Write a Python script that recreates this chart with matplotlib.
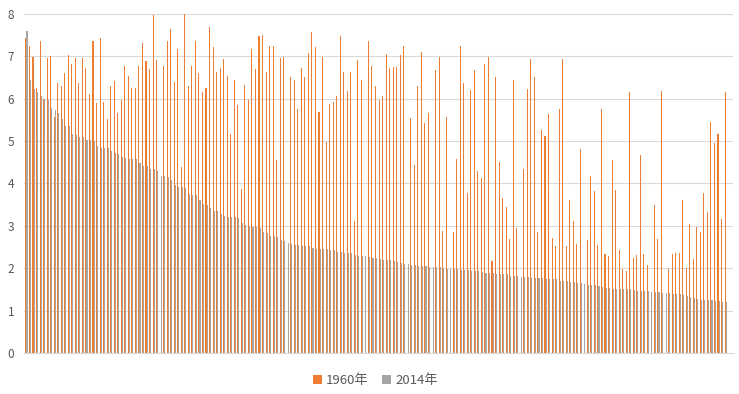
import numpy as np
import matplotlib
matplotlib.use("Agg")
import matplotlib.pyplot as plt

plt.rcParams["font.family"] = ["Noto Sans CJK SC", "DejaVu Sans"]

nan = np.nan

# 1960 fertility values (orange), in chart order (sorted by 2014 value)
fert_1960 = [
    7.42, 7.25, 6.97, 6.24, 7.37, 6.00, 6.95, 7.00, 5.56, 6.36,
    6.29, 6.60, 7.02, 6.81, 6.95, 6.36, 6.95, 6.71, 6.10, 7.35,
    5.89, 7.44, 5.91, 5.51, 6.29, 6.41, 5.65, 5.96, 6.78, 6.53,
    6.24, 6.24, 6.78, 7.30, 6.88, 6.69, 7.96, 6.90, nan, 6.76,
    7.37, 7.65, 6.38, 7.16, 4.38, 8.20, 6.29, 6.78, 7.37, 6.60,
    6.15, 6.24, 7.70, 7.21, 6.62, 6.71, 6.93, 6.53, 5.16, 6.45,
    5.84, 3.87, 6.31, 5.96, 7.16, 6.69, 7.47, 7.51, 6.62, 7.25,
    7.23, 4.55, 6.95, 6.97, nan, 6.50, 6.45, 5.75, 6.71, 6.50,
    7.07, 7.56, 7.21, 5.68, 6.97, 4.97, 5.87, 5.91, 6.05, 7.47,
    6.62, 6.17, 6.62, 3.11, 6.90, 6.43, nan, 7.35, 6.76, 6.29,
    5.96, 6.05, 7.04, 6.71, 6.74, 6.74, 7.02, 7.23, nan, 5.54,
    4.43, 6.29, 7.09, 5.42, 5.65, nan, 6.67, 6.97, 2.88, 5.56,
    nan, 2.85, 4.57, 7.23, 6.36, 3.77, 6.20, 6.67, 4.29, 4.13,
    6.81, 6.97, 2.17, 6.50, 4.50, 3.65, 3.44, 2.69, 6.45, 2.95,
    nan, 4.34, 6.22, 6.93, 6.50, 2.85, 5.25, 5.11, 5.63, 2.71,
    2.53, 5.75, 6.93, 2.53, 3.61, 3.11, 2.57, 4.81, nan, 2.67,
    4.17, 3.82, 2.55, 5.75, 2.34, 2.29, 4.55, 3.84, 2.43, 1.98,
    1.94, 6.15, 2.24, 2.31, 4.67, 2.34, 2.08, nan, 3.49, 2.69,
    6.17, nan, 1.98, 2.34, 2.36, 2.36, 3.61, 2.01, 3.04, 2.22,
    2.97, 2.85, 3.77, 3.33, 5.44, 4.95, 5.16, 3.16, 6.15,
]

# 2014 fertility values (gray), descending
fert_2014 = [
    7.60, 6.45, 6.23, 6.15, 6.07, 6.00, 5.96, 5.77, 5.73, 5.65,
    5.51, 5.35, 5.35, 5.16, 5.14, 5.09, 5.09, 5.02, 5.02, 5.00,
    4.88, 4.83, 4.83, 4.83, 4.76, 4.71, 4.69, 4.62, 4.60, 4.57,
    4.57, 4.57, 4.48, 4.41, 4.41, 4.34, 4.34, 4.29, 4.17, 4.17,
    4.15, 4.08, 3.96, 3.91, 3.91, 3.89, 3.75, 3.73, 3.73, 3.61,
    3.51, 3.49, 3.42, 3.35, 3.35, 3.28, 3.23, 3.21, 3.21, 3.21,
    3.18, 3.07, 3.02, 3.00, 2.97, 2.97, 2.95, 2.85, 2.83, 2.76,
    2.76, 2.74, 2.67, 2.64, 2.60, 2.57, 2.55, 2.55, 2.53, 2.53,
    2.53, 2.48, 2.45, 2.45, 2.45, 2.45, 2.43, 2.43, 2.38, 2.38,
    2.36, 2.36, 2.36, 2.31, 2.29, 2.29, 2.29, 2.27, 2.24, 2.24,
    2.22, 2.20, 2.20, 2.20, 2.17, 2.15, 2.13, 2.10, 2.10, 2.08,
    2.08, 2.05, 2.05, 2.05, 2.03, 2.03, 2.03, 2.03, 2.01, 1.98,
    1.98, 1.98, 1.98, 1.96, 1.96, 1.96, 1.94, 1.94, 1.94, 1.91,
    1.89, 1.89, 1.89, 1.87, 1.87, 1.87, 1.87, 1.82, 1.82, 1.82,
    1.80, 1.80, 1.80, 1.77, 1.77, 1.77, 1.77, 1.75, 1.75, 1.75,
    1.75, 1.70, 1.70, 1.70, 1.68, 1.68, 1.65, 1.65, 1.63, 1.61,
    1.61, 1.61, 1.58, 1.56, 1.54, 1.54, 1.51, 1.51, 1.51, 1.51,
    1.51, 1.51, 1.49, 1.47, 1.47, 1.47, 1.47, 1.44, 1.44, 1.44,
    1.42, 1.42, 1.42, 1.40, 1.40, 1.40, 1.37, 1.35, 1.33, 1.30,
    1.28, 1.26, 1.26, 1.26, 1.26, 1.23, 1.23, 1.21, 1.21,
]

series_names = ["1960年", "2014年"]
yticks = [0, 1, 2, 3, 4, 5, 6, 7, 8]

n = len(fert_2014)
x = np.arange(n)

fig = plt.figure(figsize=(7.39, 3.94), dpi=100)
ax = fig.add_axes([24 / 739, 0.104, 709 / 739, 0.861])

w = 0.3
ax.bar(x - w / 2, fert_1960, width=w, color="#ED7D31", linewidth=0, label=series_names[0])
ax.bar(x + w / 2, fert_2014, width=w, color="#A5A5A5", linewidth=0, label=series_names[1])

ax.set_xlim(-0.7, n + 1.1)
ax.set_ylim(0, 8)
ax.set_yticks(yticks)
ax.set_xticks([])
ax.yaxis.grid(True, color="#D9D9D9", linewidth=0.8)
ax.set_axisbelow(True)
for s in ["top", "right", "left"]:
    ax.spines[s].set_visible(False)
ax.spines["bottom"].set_color("#D9D9D9")
ax.tick_params(axis="y", length=0, labelsize=8.5, labelcolor="#595959", pad=7)

fig.legend(loc="lower center", bbox_to_anchor=(0.508, -0.012), ncol=2, frameon=False,
           fontsize=9.5, handlelength=0.7, handleheight=0.7, handletextpad=0.3,
           columnspacing=1.0, labelcolor="#595959")

fig.savefig("out.png", dpi=100)
